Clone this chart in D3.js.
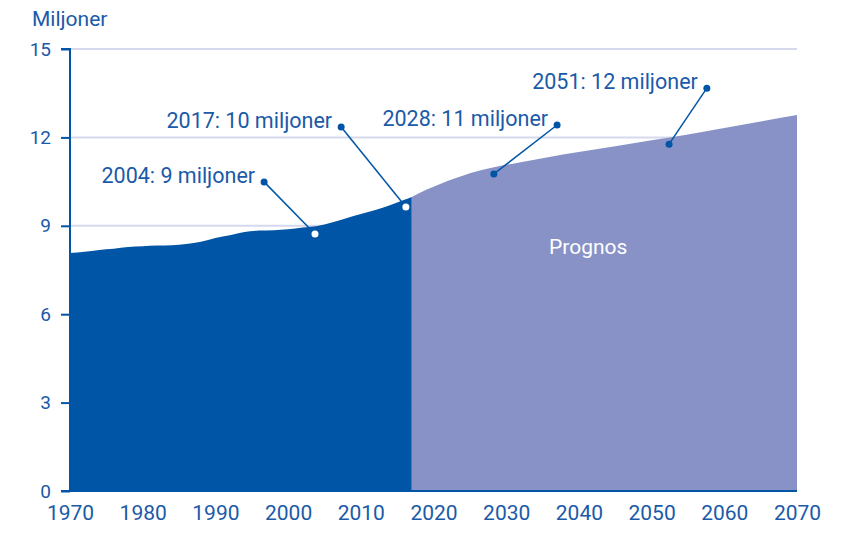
<!DOCTYPE html>
<html><head><meta charset="utf-8">
<script src="https://cdn.jsdelivr.net/npm/d3@7"></script>
<style>
html,body{margin:0;padding:0;background:#fff;}
svg{display:block;font-family:Roboto,"Noto Sans",sans-serif;}
</style></head>
<body>
<svg id="c" width="858" height="537"></svg>
<script>
// Historical population (millions)
const histYears = [1970,1972,1974,1976,1978,1980,1982,1984,1986,1988,1990,1992,1994,1996,1998,2000,2002,2004,2006,2008,2010,2012,2014,2016,2017];
const histValues = [8.08,8.12,8.18,8.22,8.28,8.31,8.33,8.34,8.38,8.46,8.59,8.68,8.79,8.84,8.85,8.88,8.94,8.99,9.11,9.26,9.40,9.54,9.70,9.88,9.98];
// Forecast (millions)
const progYears = [2017,2019,2021,2023,2025,2028,2032,2038,2045,2050,2055,2060,2065,2070];
const progValues = [9.98,10.22,10.43,10.61,10.78,10.97,11.16,11.43,11.7,11.9,12.1,12.32,12.54,12.76];
const yTicks = [0,3,6,9,12,15];
const xTicks = [1970,1980,1990,2000,2010,2020,2030,2040,2050,2060,2070];
// Annotations
const annLabels = ["2004: 9 miljoner","2017: 10 miljoner","2028: 11 miljoner","2051: 12 miljoner"];
const annPointYear = [2003.7,2016.2,2028.3,2052.4];
const annPointValue = [8.72,9.64,10.76,11.77];
const annLabelYear = [1996.7,2007.3,2037.0,2057.6];
const annLabelValue = [10.49,12.35,12.42,13.67];
const annInside = [true,true,false,false];
const yTitle = "Miljoner";
const progLabel = "Prognos";

const dark = "#0055a6", light = "#8892c6", txt = "#1a5aa8", grid = "#d6d9ee";
const svg = d3.select("#c");
const x = d3.scaleLinear().domain([1970,2070]).range([70,797]);
const y = d3.scaleLinear().domain([0,15]).range([491,49]);

// gridlines
svg.append("g").selectAll("line").data(yTicks.filter(d=>d>0)).join("line")
  .attr("x1",70).attr("x2",797).attr("y1",d=>y(d)).attr("y2",d=>y(d))
  .attr("stroke",grid).attr("stroke-width",2);

const area = d3.area().x(d=>x(d[0])).y0(y(0)).y1(d=>y(d[1])).curve(d3.curveMonotoneX);
svg.append("path").datum(progYears.map((d,i)=>[d,progValues[i]])).attr("d",area).attr("fill",light);
svg.append("path").datum(histYears.map((d,i)=>[d,histValues[i]])).attr("d",area).attr("fill",dark);

// y axis
const yAxis = svg.append("g").attr("transform","translate(70,0)")
  .call(d3.axisLeft(y).tickValues(yTicks).tickSize(9).tickPadding(10));
yAxis.select(".domain").attr("stroke",dark).attr("stroke-width",2).attr("d","M-9,"+y(15)+"H0V"+y(0));
yAxis.selectAll(".tick line").attr("stroke",dark).attr("stroke-width",2);
yAxis.selectAll(".tick text").attr("fill",txt).attr("font-size",19).attr("font-family","Roboto");

// x axis
const xAxis = svg.append("g").attr("transform","translate(0,491)")
  .call(d3.axisBottom(x).tickValues(xTicks).tickFormat(d3.format("d")).tickSize(0).tickPadding(14));
xAxis.select(".domain").attr("stroke",dark).attr("stroke-width",2).attr("d","M61,0H797");
xAxis.selectAll(".tick text").attr("fill",txt).attr("font-size",21).attr("font-family","Roboto");

svg.append("text").attr("x",32).attr("y",26).attr("fill",txt).attr("font-size",21).text(yTitle);

svg.append("text").attr("x",x(2035.9)).attr("y",254).attr("fill","#fff").attr("font-size",21).text(progLabel);

// annotations
annLabels.forEach((lab,i)=>{
  const px=x(annPointYear[i]), py=y(annPointValue[i]);
  const lx=x(annLabelYear[i]), ly=y(annLabelValue[i]);
  svg.append("line").attr("x1",lx).attr("y1",ly).attr("x2",px).attr("y2",py)
    .attr("stroke",dark).attr("stroke-width",1.5);
  svg.append("circle").attr("cx",lx).attr("cy",ly).attr("r",3.5).attr("fill",dark);
  svg.append("circle").attr("cx",px).attr("cy",py).attr("r",3.5).attr("fill",annInside[i]?"#fff":dark);
  svg.append("text").attr("x",lx-9).attr("y",ly+1).attr("text-anchor","end")
    .attr("fill",txt).attr("font-size",21.5).text(lab);
});
</script>
</body></html>
